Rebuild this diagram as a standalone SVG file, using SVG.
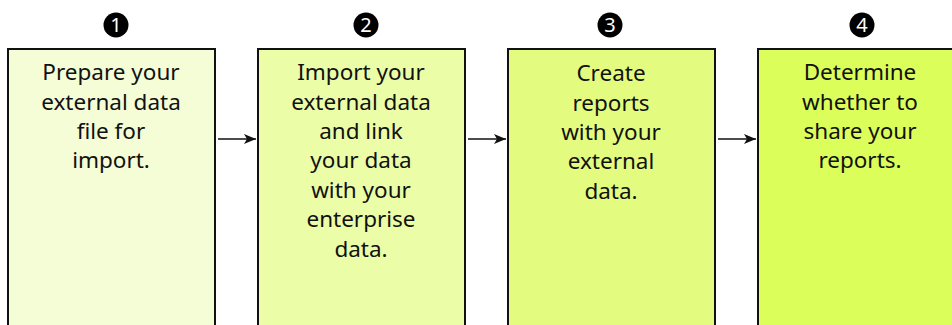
<svg xmlns="http://www.w3.org/2000/svg" width="952" height="325" viewBox="0 0 952 325">
<defs>
<style>
.box{stroke:#111;stroke-width:2}
.t{font-family:"Noto Sans","DejaVu Sans",sans-serif;font-size:22.5px;fill:#111;text-anchor:middle}
.num{font-family:"Noto Sans","DejaVu Sans",sans-serif;font-size:20px;fill:#fff;text-anchor:middle}
.conn{stroke:#111;stroke-width:1.6;fill:none}
</style>
<marker id="ah" viewBox="0 0 12 10" refX="12" refY="5" markerWidth="12" markerHeight="10" markerUnits="userSpaceOnUse" orient="auto">
<path d="M0,0 L12,5 L0,10 L3,5 Z" fill="#111"/>
</marker>
</defs>
<rect width="952" height="325" fill="#fff"/>
<g id="step1">
<rect class="box" x="8" y="49" width="207" height="300" fill="#f5fdd6"/>
<circle cx="116" cy="25" r="12.5" fill="#000"/>
<text class="num" x="116" y="32">1</text>
<text class="t"><tspan x="111" y="80">Prepare your</tspan><tspan x="111" y="109.5">external data</tspan><tspan x="111" y="139">file for</tspan><tspan x="111" y="168">import.</tspan></text>
</g>
<g id="step2">
<rect class="box" x="258" y="49" width="207" height="300" fill="#ebfea7"/>
<circle cx="366" cy="25" r="12.5" fill="#000"/>
<text class="num" x="366" y="32">2</text>
<text class="t"><tspan x="361" y="80">Import your</tspan><tspan x="361" y="109.5">external data</tspan><tspan x="361" y="139">and link</tspan><tspan x="361" y="168">your data</tspan><tspan x="361" y="198">with your</tspan><tspan x="361" y="227">enterprise</tspan><tspan x="361" y="257">data.</tspan></text>
</g>
<g id="step3">
<rect class="box" x="508" y="49" width="207" height="300" fill="#e3fc80"/>
<circle cx="610" cy="25" r="12.5" fill="#000"/>
<text class="num" x="610" y="32">3</text>
<text class="t"><tspan x="611" y="81">Create</tspan><tspan x="611" y="110.5">reports</tspan><tspan x="611" y="140">with your</tspan><tspan x="611" y="169">external</tspan><tspan x="611" y="199">data.</tspan></text>
</g>
<g id="step4">
<rect class="box" x="758" y="49" width="207" height="300" fill="#dcfe5a"/>
<circle cx="862" cy="25" r="12.5" fill="#000"/>
<text class="num" x="862" y="32">4</text>
<text class="t"><tspan x="860" y="80">Determine</tspan><tspan x="860" y="109.5">whether to</tspan><tspan x="860" y="139">share your</tspan><tspan x="860" y="168">reports.</tspan></text>
</g>
<g id="connectors">
<line class="conn" x1="218" y1="139" x2="256" y2="139" marker-end="url(#ah)"/>
<line class="conn" x1="468" y1="139" x2="506" y2="139" marker-end="url(#ah)"/>
<line class="conn" x1="718" y1="139" x2="756" y2="139" marker-end="url(#ah)"/>
</g>
</svg>
